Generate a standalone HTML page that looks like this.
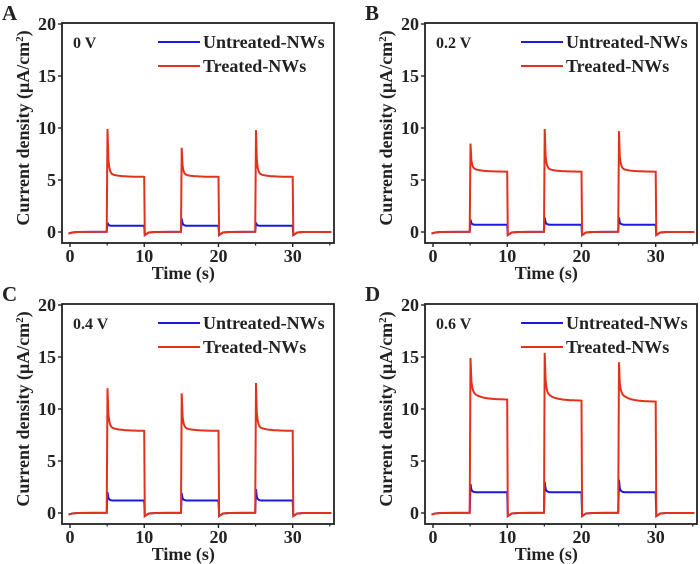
<!DOCTYPE html>
<html><head><meta charset="utf-8"><style>
html,body{margin:0;padding:0;background:#fff;width:700px;height:564px;overflow:hidden}
svg text{font-family:"Liberation Serif",serif;font-weight:bold;fill:#222}
</style></head><body>
<svg id="fig" width="700" height="564" viewBox="0 0 700 564" xmlns="http://www.w3.org/2000/svg"></svg>
<script>
const panelLetters = ["A","B","C","D"];
const biasLabels = ["0 V","0.2 V","0.4 V","0.6 V"];
const onTimes = [5,15,25];
const treatedPeaks = [[9.9,8.1,9.8],[8.5,9.9,9.7],[12.0,11.5,12.5],[14.9,15.4,14.5]];
const treatedPlateauStart = [[5.7,5.6,5.7],[6.2,6.2,6.2],[8.4,8.3,8.4],[11.8,11.7,11.7]];
const treatedPlateauEnd = [[5.3,5.3,5.3],[5.8,5.8,5.8],[7.9,7.9,7.9],[10.9,10.8,10.7]];
const untreatedPeaks = [[0.9,1.3,0.9],[1.2,1.4,1.4],[2.0,1.9,2.3],[2.8,3.0,3.2]];
const untreatedPlateau = [[0.6,0.6,0.6],[0.7,0.7,0.7],[1.2,1.2,1.2],[2.0,2.0,2.0]];
const xTicks = [0,10,20,30];
const yTicks = [0,5,10,15,20];

const NS="http://www.w3.org/2000/svg";
const svg=document.getElementById('fig');
function mk(tag,attrs,parent){const e=document.createElementNS(NS,tag);for(const k in attrs)e.setAttribute(k,attrs[k]);(parent||svg).appendChild(e);return e;}

const offsets=[[0,0],[363,0],[0,281],[363,281]];
panelLetters.forEach((L,p)=>{
  const [ox,oy]=offsets[p];
  const g=mk('g',{transform:`translate(${ox},${oy})`});
  
  
  const left=62,top=23,right=334,bottom=243;
  const X=t=>70+(t-0)*(292.7-70)/30;
  const Y=v=>232-v*(232-24)/20;
  const lt=mk('text',{x:2,y:20,'font-size':21},g);lt.textContent=L;
  
  function series(peaks,ps,pe,color,name){
    let pts=[[-0.2,-0.15],[0.3,-0.05],[1,0]];
    onTimes.forEach((t0,i)=>{
      pts.push([t0-0.05,0.02]);pts.push([t0+0.05,peaks[i]]);
      const d=peaks[i]-ps[i];
      for(let k=1;k<=40;k++){const dt=0.05+k*0.12;const tt=t0+dt;
        const v=pe[i]+(ps[i]-pe[i])*Math.exp(-dt/1.2)+d*Math.exp(-dt/0.15);pts.push([tt,v]);}
      pts.push([t0+5,pe[i]]);pts.push([t0+5.08,-0.3]);pts.push([t0+5.6,-0.05]);pts.push([t0+6.5,0]);
    });
    pts.push([35.2,0]);
    const path=mk('path',{d:'M'+pts.map(q=>X(q[0]).toFixed(1)+','+Y(q[1]).toFixed(1)).join('L'),fill:'none',stroke:color,'stroke-width':2},g);
    
  }
  series(untreatedPeaks[p],untreatedPlateau[p],untreatedPlateau[p],'#1a1adc','untreated-line');
  series(treatedPeaks[p],treatedPlateauStart[p],treatedPlateauEnd[p],'#e0321c','treated-line');
  const fr=mk('rect',{x:left,y:top,width:right-left,height:bottom-top,fill:'none',stroke:'#222','stroke-width':1.8},g);
  
  xTicks.forEach(t=>{mk('line',{x1:X(t),x2:X(t),y1:bottom,y2:bottom+4,stroke:'#222','stroke-width':1.4},g);
    const tx=mk('text',{x:X(t),y:bottom+19,'font-size':18,'text-anchor':'middle'},g);tx.textContent=t;
    });
  for(let t=5;t<=35;t+=10)mk('line',{x1:X(t),x2:X(t),y1:bottom,y2:bottom+2.5,stroke:'#222','stroke-width':1.2},g);
  yTicks.forEach(v=>{mk('line',{x1:left-4,x2:left,y1:Y(v),y2:Y(v),stroke:'#222','stroke-width':1.4},g);
    const ty=mk('text',{x:left-6,y:Y(v)+6,'font-size':18,'text-anchor':'end'},g);ty.textContent=v;
    });
  const xt=mk('text',{x:(X(0)+X(30))/2+2,y:bottom+36,'font-size':18,'text-anchor':'middle'},g);xt.textContent='Time (s)';
  
  const yt=mk('text',{x:0,y:0,'font-size':18,'text-anchor':'middle',transform:`translate(29,${(top+bottom)/2-5}) rotate(-90)`},g);
  yt.innerHTML='Current density (μA/cm<tspan dy="-6" font-size="11">2</tspan><tspan dy="6">)</tspan>';
  
  const bl=mk('text',{x:73,y:48,'font-size':16},g);bl.textContent=biasLabels[p];
  
  [['Untreated-NWs','#1a1adc',42],['Treated-NWs','#e0321c',66]].forEach(([n,c,yy])=>{
    const lg=mk('g',{},g);
    mk('line',{x1:158,x2:200,y1:yy,y2:yy,stroke:c,'stroke-width':2},lg);
    const t=mk('text',{x:203,y:yy+6,'font-size':18},lg);t.textContent=n;
  });
});
</script>
</body></html>
